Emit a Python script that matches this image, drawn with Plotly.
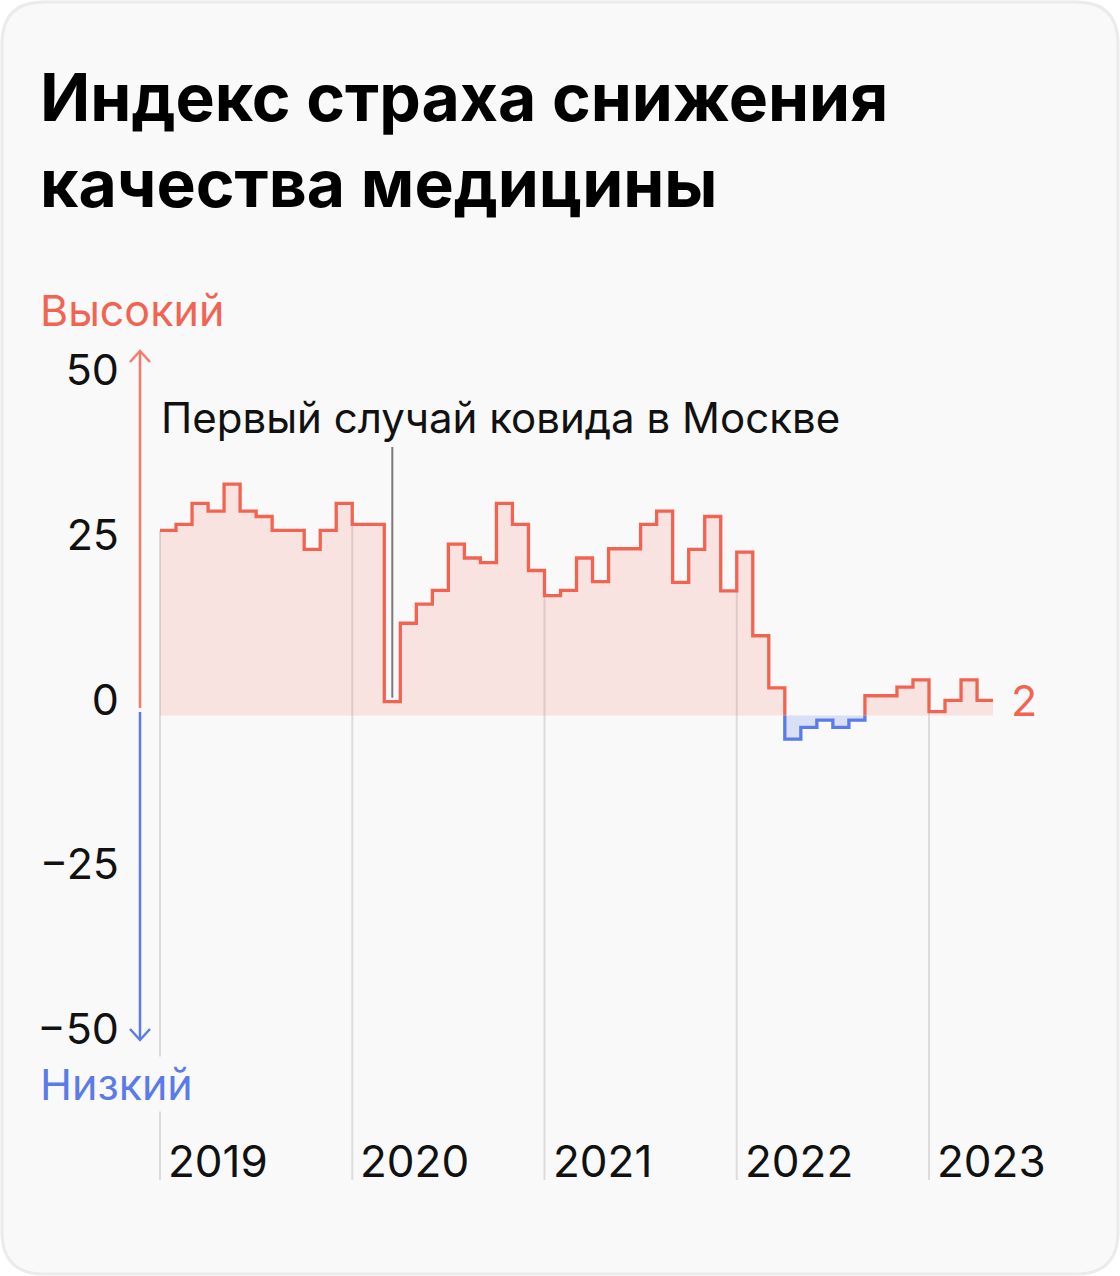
import plotly.graph_objects as go
import pandas as pd

W, H = 1120, 1276

# ---------------- data ----------------
months = pd.date_range("2019-01-01", periods=52, freq="MS").strftime("%Y-%m").tolist()
values = [28.1, 29.0, 32.2, 31.0, 35.1, 31.0, 30.2, 28.1, 28.1, 25.2, 28.1, 32.2,
          29.0, 29.0, 2.1, 14.0, 16.9, 19.0, 26.0, 23.9, 23.2, 32.2, 29.0, 22.0,
          18.2, 19.0, 23.9, 20.3, 25.3, 25.3, 29.0, 31.0, 20.2, 25.2, 30.2, 18.9,
          24.8, 12.1, 4.2, -3.6, -1.8, -0.7, -1.8, -0.7, 3.0, 3.0, 4.3, 5.4,
          0.6, 2.3, 5.4, 2.3]
year_labels = ["2019", "2020", "2021", "2022", "2023"]
y_tick_vals = [-50, -25, 0, 25, 50]
y_tick_text = ["\u221250", "\u221225", "0", "25", "50"]
covid_month = "2020-03"
covid_text = "Первый случай ковида в Москве"
title_text = "Индекс страха снижения<br>качества медицины"
high_text = "Высокий"
low_text = "Низкий"

# ---------------- colours / layout constants ----------------
RED = "#f26452"
RED_ARROW = "#f47a6b"
BLUE = "#5b7be8"
PINK_FILL = "rgba(242,102,84,0.15)"
BLUE_FILL = "rgba(91,123,232,0.20)"
GRID = "#dcdcdc"
CARD = "#f9f9f9"
FONT = "Inter"

L, R_M, T, B = 150, 40, 340, 96
PW, PH = W - L - R_M, H - T - B
PPM = 192.25 / 12.0          # pixels per month
ZERO_PX, SCALE = 715.5, 6.59  # pixel of y=0 and pixels per unit
X0_PX = 160                  # pixel of first month
xmin = -(X0_PX - L) / PPM
xmax = xmin + PW / PPM
ymin = (ZERO_PX - (H - B)) / SCALE
ymax = (ZERO_PX - T) / SCALE


def pxx(px):
    return (px - L) / PW


def pxy(py):
    return (H - B - py) / PH


# ---------------- step path ----------------
pts = []
for i, v in enumerate(values):
    pts.append((i, v))
    pts.append((i + 1, v))

red_x, red_y, blue_x, blue_y = [], [], [], []


def add(sx, sy, p, q):
    if sx and sx[-1] == p[0] and sy[-1] == p[1]:
        sx.append(q[0]); sy.append(q[1])
    else:
        if sx:
            sx.append(None); sy.append(None)
        sx.extend([p[0], q[0]]); sy.extend([p[1], q[1]])


for p, q in zip(pts[:-1], pts[1:]):
    if p[1] >= 0 and q[1] >= 0:
        add(red_x, red_y, p, q)
    elif p[1] <= 0 and q[1] <= 0:
        add(blue_x, blue_y, p, q)
    else:
        z = (p[0], 0)
        if p[1] > 0:
            add(red_x, red_y, p, z); add(blue_x, blue_y, z, q)
        else:
            add(blue_x, blue_y, p, z); add(red_x, red_y, z, q)

fx = [p[0] for p in pts]
fpos = [max(p[1], 0) for p in pts]
fneg = [min(p[1], 0) for p in pts]

fig = go.Figure()
fig.add_trace(go.Scatter(x=fx, y=fpos, mode="lines", fill="tozeroy", fillcolor=PINK_FILL,
                         line=dict(width=0, color="rgba(0,0,0,0)"), hoverinfo="skip"))
fig.add_trace(go.Scatter(x=fx, y=fneg, mode="lines", fill="tozeroy", fillcolor=BLUE_FILL,
                         line=dict(width=0, color="rgba(0,0,0,0)"), hoverinfo="skip"))
fig.add_trace(go.Scatter(x=red_x, y=red_y, mode="lines", line=dict(color=RED, width=3.3),
                         connectgaps=False))
fig.add_trace(go.Scatter(x=blue_x, y=blue_y, mode="lines", line=dict(color=BLUE, width=3.3),
                         connectgaps=False))

shapes = []
# card
x0, y0, x1, y1, r = 2, 2, 1118, 1274, 42
path = (f"M {pxx(x0 + r)},{pxy(y0)} L {pxx(x1 - r)},{pxy(y0)} "
        f"Q {pxx(x1)},{pxy(y0)} {pxx(x1)},{pxy(y0 + r)} L {pxx(x1)},{pxy(y1 - r)} "
        f"Q {pxx(x1)},{pxy(y1)} {pxx(x1 - r)},{pxy(y1)} L {pxx(x0 + r)},{pxy(y1)} "
        f"Q {pxx(x0)},{pxy(y1)} {pxx(x0)},{pxy(y1 - r)} L {pxx(x0)},{pxy(y0 + r)} "
        f"Q {pxx(x0)},{pxy(y0)} {pxx(x0 + r)},{pxy(y0)} Z")
shapes.append(dict(type="path", xref="paper", yref="paper", path=path,
                   fillcolor=CARD, line=dict(color="#ebebeb", width=3), layer="below"))

# year gridlines from line down to bottom
annotations = []
for k, lab in enumerate(year_labels):
    idx = months.index(f"{lab}-01")
    top = values[idx] if idx == 0 else min(values[idx - 1], values[idx])
    shapes.append(dict(type="line", xref="x", yref="y", x0=idx, x1=idx, y0=ymin, y1=top,
                       line=dict(color=GRID, width=2), layer="below"))
    annotations.append(dict(x=idx, y=ymin, xref="x", yref="y", text=lab, showarrow=False,
                            xanchor="left", yanchor="bottom", xshift=6, yshift=-10,
                            font=dict(family=FONT, size=44, color="#111111")))

# covid marker
ci = months.index(covid_month)
shapes.append(dict(type="line", xref="x", yref="y", x0=ci + 0.5, x1=ci + 0.5,
                   y0=values[ci] + 0.6, y1=(ZERO_PX - 447) / SCALE,
                   line=dict(color="#7a7a7a", width=2)))
annotations.append(dict(x=pxx(159), y=(ZERO_PX - 417) / SCALE, xref="paper", yref="y",
                        text=covid_text, showarrow=False, xanchor="left", yanchor="middle",
                        font=dict(family=FONT, size=42, color="#111111")))

# axis arrows
ax = 140
shapes.append(dict(type="line", xref="paper", yref="paper", x0=pxx(ax), x1=pxx(ax),
                   y0=pxy(351), y1=pxy(708), line=dict(color=RED_ARROW, width=2.5)))
shapes.append(dict(type="path", xref="paper", yref="paper",
                   path=f"M {pxx(ax - 10)},{pxy(362)} L {pxx(ax)},{pxy(351)} L {pxx(ax + 10)},{pxy(362)}",
                   line=dict(color=RED_ARROW, width=2.5)))
shapes.append(dict(type="line", xref="paper", yref="paper", x0=pxx(ax), x1=pxx(ax),
                   y0=pxy(712), y1=pxy(1040), line=dict(color=BLUE, width=2.5)))
shapes.append(dict(type="path", xref="paper", yref="paper",
                   path=f"M {pxx(ax - 10)},{pxy(1029)} L {pxx(ax)},{pxy(1040)} L {pxx(ax + 10)},{pxy(1029)}",
                   line=dict(color=BLUE, width=2.5)))

# high / low labels
annotations.append(dict(x=pxx(38), y=pxy(310), xref="paper", yref="paper", text=high_text,
                        showarrow=False, xanchor="left", yanchor="middle",
                        font=dict(family=FONT, size=43, color=RED)))
annotations.append(dict(x=pxx(38), y=pxy(1084), xref="paper", yref="paper", text=low_text,
                        showarrow=False, xanchor="left", yanchor="middle", bgcolor=CARD,
                        font=dict(family=FONT, size=43, color=BLUE)))

# last value label
annotations.append(dict(x=len(values), y=values[-1], xref="x", yref="y",
                        text=str(round(values[-1])), showarrow=False, xanchor="left",
                        yanchor="middle", xshift=16,
                        font=dict(family=FONT, size=43, color=RED)))

# title
annotations.append(dict(x=pxx(38), y=pxy(55), xref="paper", yref="paper", text=title_text,
                        showarrow=False, xanchor="left", yanchor="top", align="left",
                        font=dict(family=FONT, size=66, color="#000000", weight=700)))

fig.update_layout(
    width=W, height=H, margin=dict(l=L, r=R_M, t=T, b=B),
    paper_bgcolor="white", plot_bgcolor="rgba(0,0,0,0)",
    showlegend=False, shapes=shapes, annotations=annotations,
    xaxis=dict(range=[xmin, xmax], showgrid=False, zeroline=False, showticklabels=False,
               showline=False, fixedrange=True),
    yaxis=dict(range=[ymin, ymax], showgrid=False, zeroline=False, showline=False,
               tickvals=y_tick_vals, ticktext=y_tick_text, ticks="",
               ticklabelshift=-16, ticklabelstandoff=30,
               tickfont=dict(family=FONT, size=43, color="#111111"), fixedrange=True),
)

fig.write_html("out.html", config={"displayModeBar": False})
